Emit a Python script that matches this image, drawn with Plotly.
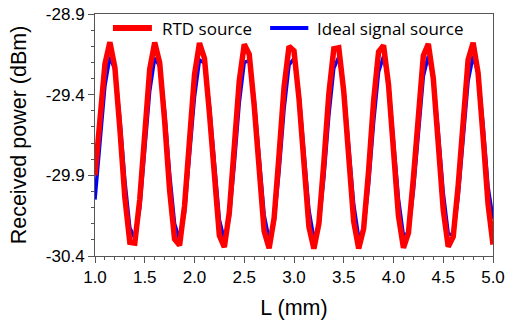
import plotly.graph_objects as go

# Propagation length L (mm), sampled every 0.05 mm
length_mm = [round(1.0 + 0.05 * i, 2) for i in range(81)]

# Received power (dBm) with the RTD transmitter
rtd_power = [
    -29.900, -29.575, -29.210, -29.075, -29.232, -29.611, -30.036, -30.315, -30.320, -30.048,
    -29.625, -29.243, -29.076, -29.202, -29.562, -29.993, -30.296, -30.334, -30.089, -29.673,
    -29.277, -29.080, -29.174, -29.514, -29.947, -30.274, -30.345, -30.128, -29.723, -29.314,
    -29.088, -29.149, -29.468, -29.900, -30.247, -30.352, -30.166, -29.773, -29.354, -29.101,
    -29.128, -29.423, -29.853, -30.219, -30.355, -30.199, -29.822, -29.396, -29.116, -29.110,
    -29.380, -29.803, -30.186, -30.354, -30.230, -29.870, -29.439, -29.135, -29.095, -29.339,
    -29.755, -30.152, -30.350, -30.257, -29.917, -29.485, -29.158, -29.085, -29.300, -29.705,
    -30.114, -30.342, -30.281, -29.963, -29.531, -29.183, -29.078, -29.264, -29.657, -30.076,
    -30.329,
]

# Received power (dBm) with an ideal signal source
ideal_power = [
    -30.050, -29.699, -29.344, -29.165, -29.244, -29.545, -29.931, -30.224, -30.292, -30.103,
    -29.744, -29.378, -29.173, -29.223, -29.504, -29.889, -30.201, -30.298, -30.135, -29.788,
    -29.414, -29.185, -29.204, -29.464, -29.846, -30.175, -30.300, -30.165, -29.831, -29.451,
    -29.199, -29.189, -29.426, -29.802, -30.146, -30.299, -30.192, -29.875, -29.491, -29.216,
    -29.177, -29.390, -29.759, -30.114, -30.294, -30.216, -29.916, -29.531, -29.237, -29.167,
    -29.355, -29.714, -30.080, -30.286, -30.238, -29.957, -29.573, -29.260, -29.162, -29.324,
    -29.671, -30.045, -30.275, -30.256, -29.997, -29.615, -29.287, -29.160, -29.294, -29.627,
    -30.007, -30.261, -30.272, -30.034, -29.659, -29.315, -29.161, -29.267, -29.585, -29.969,
    -30.170,
]

x_ticks = [1.0, 1.5, 2.0, 2.5, 3.0, 3.5, 4.0, 4.5, 5.0]
x_tick_text = ["1.0", "1.5", "2.0", "2.5", "3.0", "3.5", "4.0", "4.5", "5.0"]
y_ticks = [-28.9, -29.4, -29.9, -30.4]
y_tick_text = ["-28.9", "-29.4", "-29.9", "-30.4"]

series_names = ["RTD source", "Ideal signal source"]
series_colors = ["#FF0000", "#0000FF"]

fig = go.Figure()
fig.add_trace(go.Scatter(
    x=length_mm, y=ideal_power, mode="lines", name=series_names[1],
    line=dict(color=series_colors[1], width=3.5), showlegend=False,
))
fig.add_trace(go.Scatter(
    x=length_mm, y=rtd_power, mode="lines", name=series_names[0],
    line=dict(color=series_colors[0], width=5.5), showlegend=False,
))

# Key drawn across the top of the plot area: sample line + label per series
key_y = 0.942
key_items = [(0.045, 0.143, 0.163, 6, series_names[0], series_colors[0]),
             (0.440, 0.536, 0.553, 4, series_names[1], series_colors[1])]
for x0, x1, xt, w, label, color in key_items:
    fig.add_shape(type="line", xref="paper", yref="paper", x0=x0, x1=x1, y0=key_y, y1=key_y,
                  line=dict(color=color, width=w))
    fig.add_annotation(xref="paper", yref="paper", x=xt, y=key_y, text=label,
                       showarrow=False, xanchor="left", yanchor="middle",
                       font=dict(family="Open Sans, Lato, sans-serif", size=17, color="#000000"))

tick_font = dict(family="Liberation Sans, Arial, sans-serif", size=17, color="#000000")
title_font = dict(family="Liberation Sans, Arial, sans-serif", size=21.5, color="#000000")

fig.update_layout(
    width=505, height=321,
    margin=dict(l=95, r=12, t=14, b=65),
    paper_bgcolor="white", plot_bgcolor="white",
    showlegend=False,
    xaxis=dict(
        range=[1.0, 5.0], tickvals=x_ticks, ticktext=x_tick_text, automargin=False,
        ticks="outside", ticklen=6, tickwidth=1, tickcolor="#555555",
        minor=dict(dtick=0.1, ticks="outside", ticklen=3, tickcolor="#555555"),
        showline=True, linecolor="#555555", linewidth=1, mirror=True,
        showgrid=False, zeroline=False, tickfont=tick_font,
        title=dict(text="L (mm)", font=title_font, standoff=13),
    ),
    yaxis=dict(
        range=[-30.4, -28.9], tickvals=y_ticks, ticktext=y_tick_text, automargin=False,
        ticks="outside", ticklen=6, tickwidth=1, tickcolor="#555555",
        minor=dict(dtick=0.1, tick0=-28.9, ticks="outside", ticklen=3, tickcolor="#555555"),
        showline=True, linecolor="#555555", linewidth=1, mirror=True,
        showgrid=False, zeroline=False, tickfont=tick_font,
        title=dict(text="Received power (dBm)", font=title_font, standoff=13),
    ),
)

fig.write_html("out.html")
